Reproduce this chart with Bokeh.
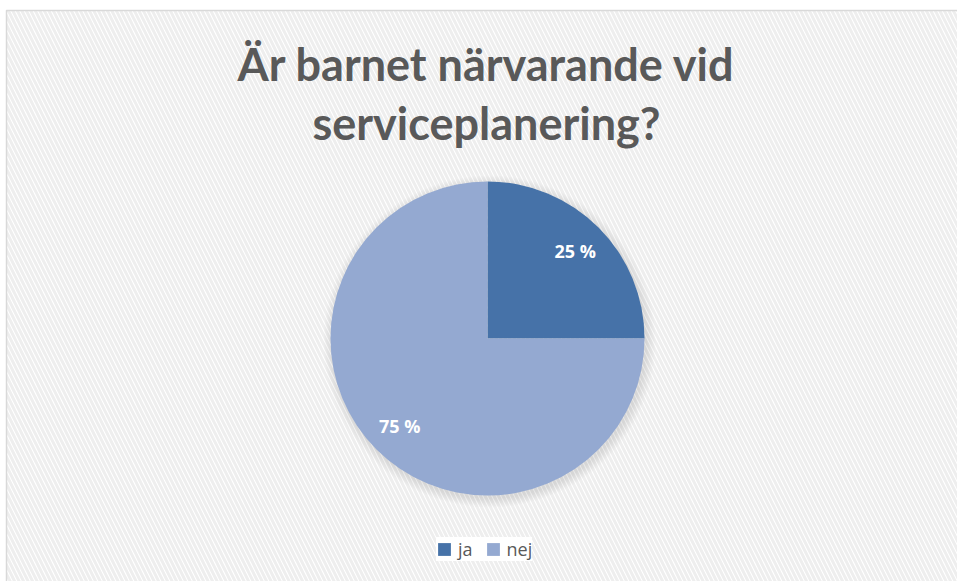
import math
from bokeh.plotting import figure
from bokeh.models import Range1d, Legend, LegendItem
from bokeh.core.properties import value
from bokeh.embed import file_html
from bokeh.resources import INLINE

# ---- data ----
categories = ["ja", "nej"]
shares = [25, 75]
colors = ["#4672A8", "#94A9D1"]
title_lines = ["Är barnet närvarande vid", "serviceplanering?"]

W, H = 957, 581
p = figure(width=W, height=H, output_backend="svg", toolbar_location=None,
           x_range=Range1d(0, W), y_range=Range1d(0, H), min_border=0)
p.axis.visible = False
p.grid.visible = False
p.outline_line_color = None
p.background_fill_color = "white"
p.border_fill_color = "white"

# hatched chart area with light border (page coords: left 6, top 10)
p.quad(left=[6], right=[W + 5], bottom=[-5], top=[H - 10], fill_color="white",
       line_color="#d9d9d9", line_width=1.5, hatch_pattern="\\",
       hatch_color="#eeeeee", hatch_weight=3, hatch_scale=9)

cx, cy, r = 487, H - 338, 157

# soft shadow
for i in range(8):
    p.circle(x=[cx + 2], y=[cy - 3], radius=r + 9 - i * 1.2,
             fill_color="#000000", fill_alpha=0.01, line_color=None)

# wedges: start at 12 o'clock, go clockwise
total = sum(shares)
starts, ends, mids = [], [], []
a = math.pi / 2
for s in shares:
    span = 2 * math.pi * s / total
    starts.append(a - span)
    ends.append(a)
    mids.append(a - span / 2)
    a -= span

renderers = []
for i in range(len(categories)):
    rr = p.wedge(x=cx, y=cy, radius=r, start_angle=starts[i], end_angle=ends[i],
                 fill_color=colors[i], line_color=None)
    renderers.append(rr)

# labels
lr = 0.79 * r
p.text(x=[cx + lr * math.cos(m) for m in mids],
       y=[cy + lr * math.sin(m) for m in mids],
       text=[f"{s} %" for s in shares], text_color="white",
       text_font=value("Open Sans"), text_font_style="bold",
       text_font_size="18px", text_align="center", text_baseline="middle")

# title
for j, line in enumerate(title_lines):
    p.text(x=[486], y=[H - 63 - j * 59], text=[line], text_color="#595959",
           text_font=value("Lato"), text_font_style="bold",
           text_font_size="45px", text_align="center", text_baseline="alphabetic")

legend = Legend(items=[LegendItem(label=c, renderers=[renderers[i]]) for i, c in enumerate(categories)],
                orientation="horizontal", location=(436, 20),
                glyph_width=16, glyph_height=16, label_standoff=6, spacing=12,
                label_width=10, padding=13, margin=0,
                label_text_font="Open Sans", label_text_font_size="18px",
                label_text_color="#595959", background_fill_color="white",
                background_fill_alpha=1.0, border_line_color=None)
p.add_layout(legend, "center")

open("out.html", "w").write(file_html(p, INLINE))
